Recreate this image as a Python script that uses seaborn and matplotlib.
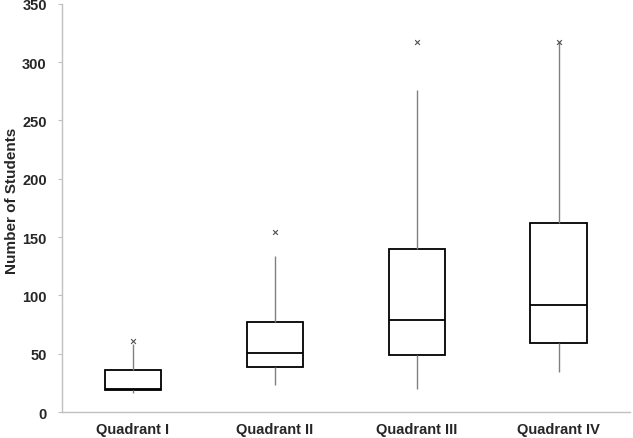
import matplotlib
matplotlib.use("Agg")
import matplotlib.pyplot as plt
import pandas as pd
import seaborn as sns

QUADRANTS = ["Quadrant I", "Quadrant II", "Quadrant III", "Quadrant IV"]
# Five-number summaries: whisker low, Q1, median, Q3, whisker high
Q_I = [16, 19, 20, 36, 58]
Q_II = [23, 39, 51, 77, 134]
Q_III = [20, 49, 79, 140, 276]
Q_IV = [34, 59, 92, 162, 317]
# Points marked with an "x"
FLIER_GROUP = ["Quadrant I", "Quadrant II", "Quadrant III", "Quadrant IV"]
FLIER_VALUE = [61, 154, 317, 317]

sns.set_style("white")
plt.rcParams["font.family"] = ["Liberation Sans", "DejaVu Sans"]
plt.rcParams["font.weight"] = "bold"


def main():
    rows = []
    for name, vals in zip(QUADRANTS, (Q_I, Q_II, Q_III, Q_IV)):
        rows += [{"quadrant": name, "students": v} for v in vals]
    df = pd.DataFrame(rows)
    fliers = pd.DataFrame({"quadrant": FLIER_GROUP, "students": FLIER_VALUE})

    fig = plt.figure(figsize=(6.33, 4.39), dpi=100)
    ax = fig.add_axes([0.098, 0.059, 0.897, 0.93])

    sns.boxplot(data=df, x="quadrant", y="students", order=QUADRANTS,
                whis=(0, 100), width=0.4, color="white", linecolor="black",
                linewidth=1.3, showcaps=False, showfliers=False, ax=ax,
                whiskerprops={"color": "#808080", "linewidth": 1.0},
                medianprops={"color": "black", "linewidth": 1.3})
    sns.scatterplot(data=fliers, x="quadrant", y="students", marker="x",
                    color="#505050", s=12, linewidth=0.8, ax=ax, zorder=5)

    # Aesthetics
    ax.set_xlim(-0.5, 3.5)
    ax.set_ylim(0, 350)
    ax.set_yticks(range(0, 351, 50))
    ax.set_xlabel("")
    ax.set_ylabel("Number of Students", fontsize=11, fontweight="bold")
    ax.yaxis.set_label_coords(-0.075, 0.52)
    sns.despine(ax=ax)
    for side in ("left", "bottom"):
        ax.spines[side].set_color("#c0c0c0")
        ax.spines[side].set_linewidth(1.0)
    ax.tick_params(axis="y", length=3, width=0.8, color="#c0c0c0",
                   labelsize=10.5, pad=8, left=True)
    ax.tick_params(axis="x", length=0, labelsize=10.5, pad=7)
    for lbl in ax.get_xticklabels() + ax.get_yticklabels():
        lbl.set_fontweight("bold")

    fig.savefig("out.png", dpi=100)
    plt.close(fig)


if __name__ == "__main__":
    main()
